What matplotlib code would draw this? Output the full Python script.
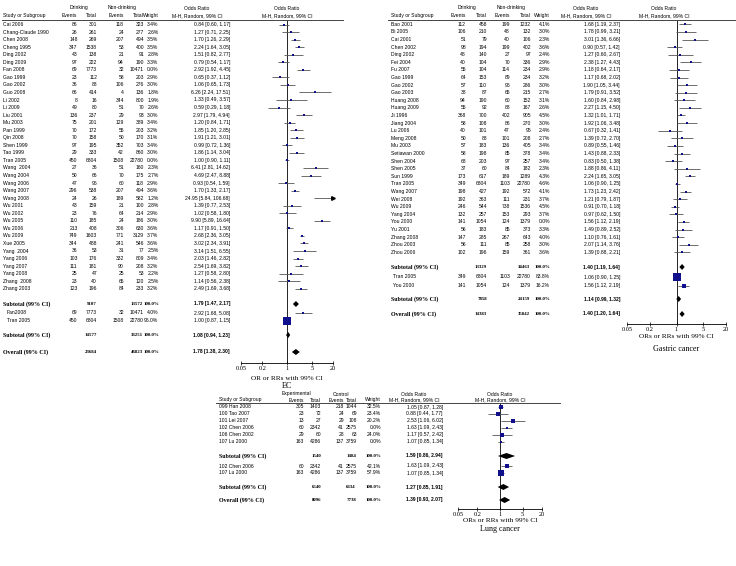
import matplotlib.pyplot as plt
import matplotlib.transforms as mtransforms
from matplotlib.lines import Line2D

W, H = 736, 566
SANS = 'Liberation Sans'
SERIF = 'Liberation Serif'
FS = 3.6
NAVY = '#10108c'

# ---------------- EC (oesophageal cancer) ----------------
ec_study = ["Cai 2006", "Chang-Claude 1990", "Chen 2008", "Cheng 1995", "Ding 2002", "Ding 2009",
            "Fan 2008", "Gao 1999", "Gao 2002", "Guo 2008", "Li 2002", "Li 2009", "Liu 2001",
            "Mu 2003", "Pan 1999", "Qin 2008", "Shen 1999", "Tao 1999", "Tran 2005", "Wang  2004",
            "Wang 2004", "Wang 2006", "Wang 2007", "Wang 2008", "Wu 2001", "Wu 2002", "Wu 2005",
            "Wu 2006", "Wu 2009", "Xue 2005", "Yang  2004", "Yang 2006", "Yang 2007", "Yang 2008",
            "Zhang  2008", "Zhang 2003"]
ec_d_ev = [86, 26, 148, 347, 43, 97, 69, 23, 36, 66, 8, 49, 136, 75, 70, 70, 97, 29, 450, 27,
           50, 47, 296, 24, 43, 23, 110, 213, 749, 344, 36, 103, 111, 25, 23, 123]
ec_d_tot = [301, 261, 269, 1538, 138, 222, 7773, 112, 88, 414, 16, 80, 237, 201, 172, 158, 195,
            333, 6804, 36, 66, 96, 538, 26, 159, 76, 185, 408, 1603, 488, 53, 176, 181, 47, 40, 196]
ec_n_ev = [118, 24, 207, 53, 21, 94, 32, 58, 106, 4, 344, 51, 29, 129, 55, 50, 352, 42, 1508, 51,
           70, 60, 207, 189, 21, 64, 24, 306, 771, 241, 31, 332, 90, 25, 65, 84]
ec_n_tot = [323, 277, 494, 400, 91, 190, 10471, 203, 276, 136, 800, 70, 93, 389, 203, 170, 703,
            860, 22780, 160, 175, 118, 494, 582, 100, 214, 186, 630, 3129, 546, 77, 809, 208, 53,
            120, 233]
ec_weight = [3.4, 2.6, 3.5, 3.5, 2.8, 3.3, 0.0, 2.9, 3.0, 1.8, 1.9, 2.6, 3.0, 3.4, 3.2, 3.1, 3.4,
             3.0, 0.0, 2.3, 2.7, 2.9, 3.6, 1.2, 2.8, 2.9, 3.0, 3.6, 3.7, 3.6, 2.5, 3.4, 3.2, 2.2,
             2.5, 3.2]
ec_or = [0.84, 1.27, 1.70, 2.24, 1.51, 0.79, 2.92, 0.65, 1.06, 6.26, 1.33, 0.59, 2.97, 1.20, 1.85,
         1.91, 0.99, 1.86, 1.00, 6.41, 4.69, 0.93, 1.70, 24.95, 1.39, 1.02, 9.90, 1.17, 2.68, 3.02,
         3.14, 2.03, 2.54, 1.27, 1.14, 2.49]
ec_lo = [0.60, 0.71, 1.26, 1.64, 0.82, 0.54, 1.92, 0.37, 0.65, 2.24, 0.49, 0.29, 1.79, 0.84, 1.20,
         1.21, 0.72, 1.14, 0.90, 2.81, 2.47, 0.54, 1.33, 5.84, 0.77, 0.58, 5.89, 0.91, 2.36, 2.34,
         1.51, 1.46, 1.69, 0.58, 0.56, 1.69]
ec_hi = [1.17, 2.25, 2.29, 3.05, 2.77, 1.17, 4.45, 1.12, 1.73, 17.51, 3.57, 1.18, 4.94, 1.71, 2.85,
         3.01, 1.36, 3.04, 1.11, 14.62, 8.88, 1.59, 2.17, 106.68, 2.53, 1.80, 16.64, 1.50, 3.05,
         3.91, 6.55, 2.82, 3.82, 2.80, 2.38, 3.68]

ec2_study = ["Fan2008", "Tran 2005"]
ec2_d_ev = [69, 450]
ec2_d_tot = [7773, 6804]
ec2_n_ev = [32, 1508]
ec2_n_tot = [10471, 22780]
ec2_weight = [4.0, 96.0]
ec2_or = [2.92, 1.00]
ec2_lo = [1.68, 0.87]
ec2_hi = [5.08, 1.15]

ec_sum_label = ["Subtotal (99% CI)", "Subtotal (99% CI)", "Overall (99% CI)"]
ec_sum_d_tot = [9107, 14577, 23684]
ec_sum_n_tot = [13572, 33251, 46823]
ec_sum_or = [1.79, 1.08, 1.78]
ec_sum_lo = [1.47, 0.94, 1.38]
ec_sum_hi = [2.17, 1.23, 2.30]

# ---------------- Gastric cancer ----------------
gc_study = ["Bao 2001", "Bi 2005", "Cai 2001", "Chen 2002", "Ding 2002", "Fei 2004", "Fu 2007",
            "Gao 1999", "Gao 2002", "Gao 2003", "Huang 2008", "Huang 2009", "Ji 1996",
            "Jiang 2004", "Lu 2006", "Meng 2008", "Mu 2003", "Setiawan 2000", "Shen 2004",
            "Shen 2005", "Sun 1999", "Tran 2005", "Wang 2007", "Wei 2008", "Wu 2009", "Yang 2004",
            "You 2000", "Yu 2001", "Zhang 2008", "Zhou 2003", "Zhou 2006"]
gc_d_ev = [112, 106, 51, 98, 48, 40, 55, 64, 57, 38, 94, 55, 368, 58, 40, 50, 57, 58, 68, 37, 173,
           349, 198, 192, 246, 132, 141, 56, 147, 56, 102]
gc_d_tot = [458, 210, 79, 194, 140, 104, 104, 153, 110, 87, 190, 92, 700, 108, 101, 88, 183, 198,
            203, 60, 617, 6804, 427, 363, 544, 257, 1054, 183, 285, 111, 196]
gc_n_ev = [199, 48, 40, 199, 27, 70, 114, 89, 96, 65, 60, 88, 402, 86, 47, 101, 136, 85, 97, 84,
           189, 1103, 192, 111, 738, 153, 124, 85, 267, 85, 159]
gc_n_tot = [1232, 132, 106, 402, 97, 336, 234, 234, 286, 215, 152, 167, 905, 270, 95, 208, 405,
            378, 257, 182, 1289, 22780, 572, 231, 1536, 293, 1379, 373, 643, 258, 361]
gc_weight = [4.1, 3.0, 2.3, 3.6, 2.4, 2.9, 2.9, 3.2, 3.0, 2.7, 3.1, 2.6, 4.5, 3.0, 2.4, 2.7, 3.4,
             3.4, 3.4, 2.3, 4.3, 4.6, 4.1, 3.7, 4.5, 3.7, 0.0, 3.3, 4.0, 3.0, 3.6]
gc_or = [1.68, 1.78, 3.01, 0.90, 1.27, 2.38, 1.18, 1.17, 1.90, 1.79, 1.60, 2.27, 1.32, 1.92, 0.67,
         1.39, 0.89, 1.43, 0.83, 1.88, 2.24, 1.06, 1.73, 1.21, 0.91, 0.97, 1.56, 1.49, 1.10, 2.07,
         1.39]
gc_lo = [1.19, 0.99, 1.36, 0.57, 0.60, 1.27, 0.64, 0.68, 1.05, 0.91, 0.84, 1.15, 1.01, 1.06, 0.32,
         0.72, 0.55, 0.88, 0.50, 0.86, 1.65, 0.90, 1.23, 0.79, 0.70, 0.62, 1.12, 0.89, 0.76, 1.14,
         0.88]
gc_hi = [2.37, 3.21, 6.66, 1.42, 2.67, 4.43, 2.17, 2.02, 3.44, 3.52, 2.98, 4.50, 1.71, 3.48, 1.41,
         2.70, 1.46, 2.33, 1.38, 4.11, 3.05, 1.25, 2.42, 1.87, 1.18, 1.50, 2.19, 2.52, 1.61, 3.76,
         2.21]

gc2_study = ["Tran 2005", "You 2000"]
gc2_d_ev = [349, 141]
gc2_d_tot = [6804, 1054]
gc2_n_ev = [1103, 124]
gc2_n_tot = [22780, 1379]
gc2_weight = [83.8, 16.2]
gc2_or = [1.06, 1.56]
gc2_lo = [0.90, 1.12]
gc2_hi = [1.25, 2.19]

gc_sum_label = ["Subtotal (99% CI)", "Subtotal (99% CI)", "Overall (99% CI)"]
gc_sum_d_tot = [13329, 7858, 14383]
gc_sum_n_tot = [34463, 24159, 35842]
gc_sum_or = [1.40, 1.14, 1.40]
gc_sum_lo = [1.19, 0.99, 1.20]
gc_sum_hi = [1.64, 1.32, 1.64]

# ---------------- Lung cancer ----------------
lc_study = ["099 Han 2008", "100 Tao 2007", "101 Lei 2007", "102 Chen 2006", "106 Chen 2002",
            "107 Lu 2000"]
lc_d_ev = [305, 23, 13, 60, 29, 163]
lc_d_tot = [1403, 72, 27, 2342, 60, 4286]
lc_n_ev = [218, 24, 29, 41, 28, 137]
lc_n_tot = [1044, 69, 108, 2575, 63, 3759]
lc_weight = [32.5, 23.4, 20.2, 0.0, 24.0, 0.0]
lc_or = [1.05, 0.88, 2.53, 1.63, 1.17, 1.07]
lc_lo = [0.87, 0.44, 1.06, 1.09, 0.57, 0.85]
lc_hi = [1.28, 1.77, 6.02, 2.43, 2.42, 1.34]

lc2_study = ["102 Chen 2006", "107 Lu 2000"]
lc2_d_ev = [60, 163]
lc2_d_tot = [2342, 4286]
lc2_n_ev = [41, 137]
lc2_n_tot = [2575, 3759]
lc2_weight = [42.1, 57.9]
lc2_or = [1.63, 1.07]
lc2_lo = [1.09, 0.85]
lc2_hi = [2.43, 1.34]

lc_sum_label = ["Subtotal (99% CI)", "Subtotal (99% CI)", "Overall (99% CI)"]
lc_sum_d_tot = [1540, 6540, 8096]
lc_sum_n_tot = [1484, 6334, 7738]
lc_sum_or = [1.59, 1.27, 1.39]
lc_sum_lo = [0.86, 0.85, 0.93]
lc_sum_hi = [2.94, 1.91, 2.07]

ticks = [0.05, 0.2, 1, 5, 20]
tick_labels = ["0.05", "0.2", "1", "5", "20"]


def fmt_or(o, lo, hi):
    return f"{o:.2f} [{lo:.2f}, {hi:.2f}]"


def draw_panel(fig, L, groups, sums, grp_names, xlabel, title):
    x0, x1 = L['axis_x']
    ytop, ybot = L['line_y'], L['axis_y']
    ax = fig.add_axes([x0 / W, 1 - ybot / H, (x1 - x0) / W, (ybot - ytop) / H])
    ax.set_xscale('log')
    ax.set_xlim(0.05, 20)
    ax.set_ylim(ybot, ytop)
    ax.patch.set_alpha(0)
    for s in ['top', 'left', 'right']:
        ax.spines[s].set_visible(False)
    ax.spines['bottom'].set_linewidth(0.6)
    ax.set_yticks([])
    ax.set_xticks(ticks)
    ax.set_xticklabels(tick_labels, family=SERIF, fontsize=4.6)
    ax.minorticks_off()
    ax.tick_params(axis='x', direction='inout', length=3, width=0.5, pad=0.5)
    ax.axvline(1, color='black', lw=0.6)

    tr = mtransforms.blended_transform_factory(fig.transFigure, ax.transData)

    def txt(x, y, s, ha='right', fam=SANS, size=FS, weight='normal'):
        ax.text(x / W, y, s, transform=tr, ha=ha, va='center', fontsize=size,
                family=fam, weight=weight)

    C = L['cols']
    # column headers
    h1, h2 = L['head_y']
    txt(C['grp1'], h1, grp_names[0], ha='center')
    txt(C['grp2'], h1, grp_names[1], ha='center')
    txt(C['orh'], h1, "Odds Ratio", ha='center')
    txt(L['fh'], h1, "Odds Ratio", ha='center')
    txt(C['name'], h2, "Study or Subgroup", ha='left')
    txt(C['d_ev'], h2, "Events")
    txt(C['d_tot'], h2, "Total")
    txt(C['n_ev'], h2, "Events")
    txt(C['n_tot'], h2, "Total")
    txt(C['w'], h2, "Weight")
    txt(C['orh'], h2, "M-H, Random, 99% CI", ha='center')
    txt(L['fh'], h2, "M-H, Random, 99% CI", ha='center')
    fig.add_artist(Line2D([L['line_x'][0] / W, L['line_x'][1] / W], [1 - ytop / H] * 2,
                          color='#444444', lw=0.7))

    for g, ys, indent in zip(groups, L['rows'], [0, L['indent']]):
        study, d_ev, d_tot, n_ev, n_tot, wt, o, lo, hi = g
        for i in range(len(study)):
            y = ys[i]
            txt(C['name'] + indent, y, study[i], ha='left')
            txt(C['d_ev'], y, str(d_ev[i]))
            txt(C['d_tot'], y, str(d_tot[i]))
            txt(C['n_ev'], y, str(n_ev[i]))
            txt(C['n_tot'], y, str(n_tot[i]))
            txt(C['w'], y, f"{wt[i]:.1f}%")
            txt(C['or'], y, fmt_or(o[i], lo[i], hi[i]))
            ax.hlines(y, max(lo[i], 0.05), min(hi[i], 20), color='#555555', lw=0.6, zorder=2)
            if hi[i] > 20:
                ax.plot([20], [y], marker='>', ms=2.6, color='black', clip_on=False, zorder=3)
            side = max(1.3, L['box'] * (wt[i] / 100) ** 0.5)
            ax.scatter([o[i]], [y], marker='s', s=(side * 0.72) ** 2, color=NAVY,
                       linewidths=0, zorder=3)

    # subtotal / overall rows with diamonds
    label, d_tot, n_tot, o, lo, hi = sums
    dh = L['dh']
    for i in range(len(label)):
        y = L['sum_y'][i]
        txt(C['name'], y, label[i], ha='left', fam=SERIF, size=4.3, weight='bold')
        txt(C['d_tot'], y, str(d_tot[i]), fam=SERIF, size=3.5, weight='bold')
        txt(C['n_tot'] - 1, y, str(n_tot[i]), fam=SERIF, size=3.5, weight='bold')
        txt(C['w'] + 0.5, y, "100.0%", fam=SERIF, size=3.5, weight='bold')
        txt(C['or'], y, fmt_or(o[i], lo[i], hi[i]), weight='bold')
        ax.fill([lo[i], o[i], hi[i], o[i]], [y, y - dh, y, y + dh], color='black', zorder=3,
                lw=0)

    xc = (x0 + x1) / 2
    txt(xc, L['xlab_y'][0], xlabel, ha='center', fam=SERIF, size=5.2)
    txt(xc, L['xlab_y'][1], title, ha='center', fam=SERIF, size=5.8)


fig = plt.figure(figsize=(W / 100, H / 100), dpi=100)
fig.patch.set_facecolor('white')

step = 7.55
ec_layout = dict(
    axis_x=(241, 333), line_y=20, axis_y=363, line_x=(2, 343), head_y=(8, 15.5),
    rows=[[24.5 + i * step for i in range(len(ec_study))], [313, 320.5]], indent=4,
    sum_y=[304, 335, 352], xlab_y=(379, 386), fh=287, box=7.8, dh=3.0,
    cols=dict(name=3, d_ev=77.5, d_tot=97, n_ev=124, n_tot=144, w=158.5, orh=197,
              grp1=79, grp2=122, **{'or': 230}))
draw_panel(fig, ec_layout,
           [(ec_study, ec_d_ev, ec_d_tot, ec_n_ev, ec_n_tot, ec_weight, ec_or, ec_lo, ec_hi),
            (ec2_study, ec2_d_ev, ec2_d_tot, ec2_n_ev, ec2_n_tot, ec2_weight, ec2_or, ec2_lo,
             ec2_hi)],
           (ec_sum_label, ec_sum_d_tot, ec_sum_n_tot, ec_sum_or, ec_sum_lo, ec_sum_hi),
           ("Drinking", "Non-drinking"), "OR or RRs with 99% CI", "EC")

step_g = 7.6
gc_layout = dict(
    axis_x=(627, 726), line_y=19.5, axis_y=324, line_x=(388, 736), head_y=(8, 15.5),
    rows=[[24.3 + i * step_g for i in range(len(gc_study))], [277, 285.5]], indent=2,
    sum_y=[267, 299, 314], xlab_y=(337, 349), fh=664, box=8.2, dh=3.0,
    cols=dict(name=391, d_ev=466, d_tot=487, n_ev=510, n_tot=531, w=550, orh=586,
              grp1=467, grp2=511, **{'or': 620}))
draw_panel(fig, gc_layout,
           [(gc_study, gc_d_ev, gc_d_tot, gc_n_ev, gc_n_tot, gc_weight, gc_or, gc_lo, gc_hi),
            (gc2_study, gc2_d_ev, gc2_d_tot, gc2_n_ev, gc2_n_tot, gc2_weight, gc2_or, gc2_lo,
             gc2_hi)],
           (gc_sum_label, gc_sum_d_tot, gc_sum_n_tot, gc_sum_or, gc_sum_lo, gc_sum_hi),
           ("Drinking", "Non-drinking"), "ORs or RRs with 99% CI", "Gastric cancer")

step_l = 6.9
lc_layout = dict(
    axis_x=(458, 542), line_y=403, axis_y=509, line_x=(216, 560), head_y=(394, 400),
    rows=[[407 + i * step_l for i in range(len(lc_study))], [466, 473]], indent=0,
    sum_y=[456, 487, 500], xlab_y=(520, 529), fh=500, box=7.0, dh=3.0,
    cols=dict(name=219, d_ev=304, d_tot=321, n_ev=344, n_tot=357, w=381, orh=414,
              grp1=296, grp2=341, **{'or': 443}))
draw_panel(fig, lc_layout,
           [(lc_study, lc_d_ev, lc_d_tot, lc_n_ev, lc_n_tot, lc_weight, lc_or, lc_lo, lc_hi),
            (lc2_study, lc2_d_ev, lc2_d_tot, lc2_n_ev, lc2_n_tot, lc2_weight, lc2_or, lc2_lo,
             lc2_hi)],
           (lc_sum_label, lc_sum_d_tot, lc_sum_n_tot, lc_sum_or, lc_sum_lo, lc_sum_hi),
           ("Experimental", "Control"), "ORs or RRs with 99% CI", "Lung cancer")

fig.savefig('out.png', dpi=100)
